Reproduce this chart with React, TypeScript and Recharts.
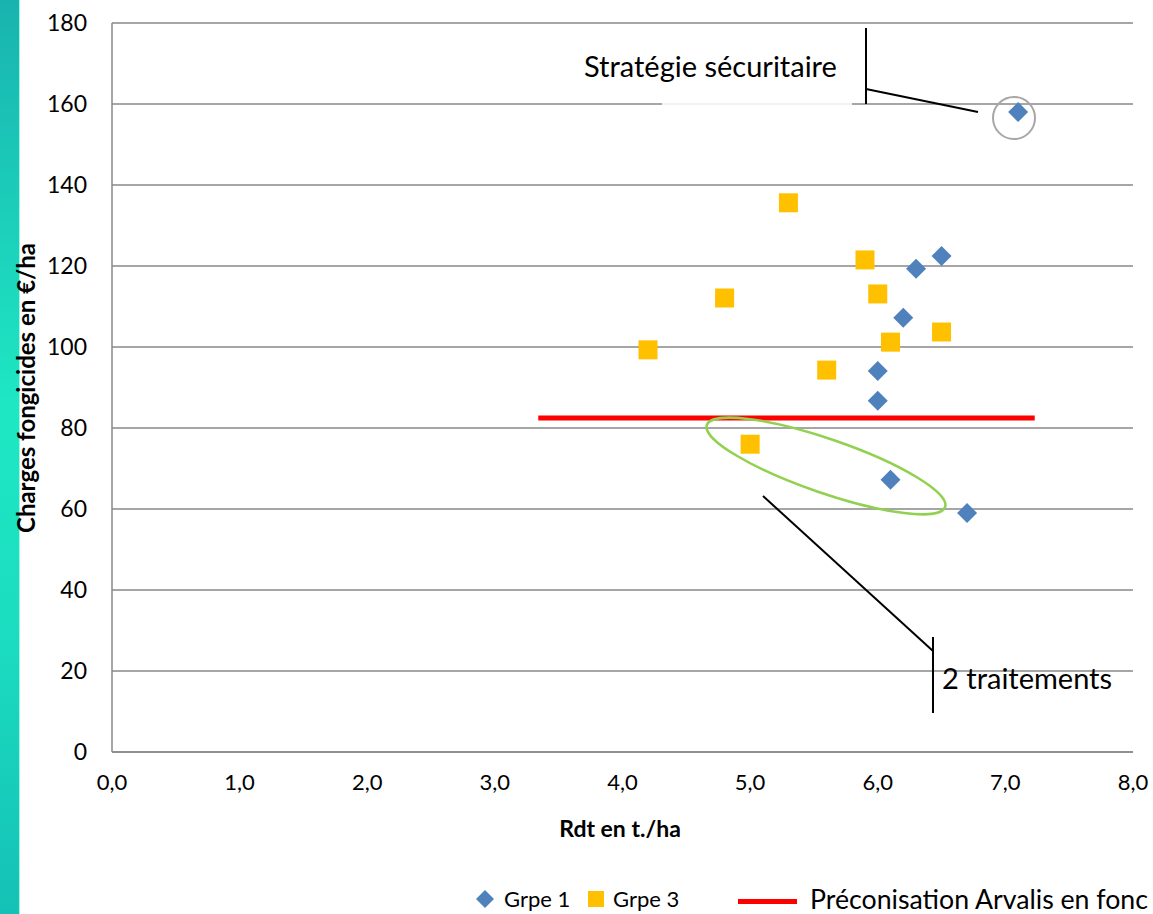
import React from "react";
import { ScatterChart, Scatter, XAxis, YAxis, CartesianGrid } from "recharts";

// Grpe 1 (diamonds)
const grpe1X = [7.1, 6.5, 6.3, 6.2, 6.0, 6.0, 6.1, 6.7];
const grpe1Y = [158, 122.5, 119.3, 107.2, 94.1, 86.7, 67.2, 59.0];

// Grpe 3 (squares)
const grpe3X = [5.3, 5.9, 4.8, 6.0, 6.5, 6.1, 4.2, 5.6, 5.0];
const grpe3Y = [135.6, 121.5, 112.1, 113.1, 103.7, 101.2, 99.3, 94.3, 76.0];

// Préconisation Arvalis (red line)
const precoX = [3.34, 7.23];
const precoY = [82.5, 82.5];

const xTicks = [0, 1, 2, 3, 4, 5, 6, 7, 8];
const yTicks = [0, 20, 40, 60, 80, 100, 120, 140, 160, 180];

const FONT = "Lato, 'Open Sans', sans-serif";
const W = 1153;
const H = 914;

const grpe1 = grpe1X.map((x, i) => ({ x, y: grpe1Y[i] }));
const grpe3 = grpe3X.map((x, i) => ({ x, y: grpe3Y[i] }));
const preco = precoX.map((x, i) => ({ x, y: precoY[i] }));

const Diamond = (props: any) => {
  const { cx, cy } = props;
  if (cx == null || cy == null) return null;
  const r = 10;
  return (
    <path
      d={`M${cx},${cy - r}L${cx + r},${cy}L${cx},${cy + r}L${cx - r},${cy}Z`}
      fill="#4F81BD"
    />
  );
};

const Square = (props: any) => {
  const { cx, cy } = props;
  if (cx == null || cy == null) return null;
  const s = 19;
  return <rect x={cx - s / 2} y={cy - s / 2} width={s} height={s} fill="#FFC000" />;
};

const NoShape = () => null;

const App = () => {
  return (
    <div
      style={{
        position: "absolute",
        left: 0,
        top: 0,
        width: W,
        height: H,
        overflow: "hidden",
        background: "#fff",
        fontFamily: FONT,
      }}
    >
      {/* teal stripe on the left */}
      <svg width={W} height={H} style={{ position: "absolute", left: 0, top: 0 }}>
        <defs>
          <linearGradient id="teal" x1="0" y1="0" x2="0" y2="1">
            <stop offset="0%" stopColor="#19b3af" />
            <stop offset="45%" stopColor="#1ee8c4" />
            <stop offset="70%" stopColor="#1bdcc0" />
            <stop offset="100%" stopColor="#14c1b6" />
          </linearGradient>
        </defs>
        <rect x={0} y={0} width={19} height={H} fill="url(#teal)" />
        <rect x={19} y={0} width={1} height={H} fill="#9ff5e4" />
      </svg>

      <div style={{ position: "absolute", left: 0, top: 0 }}>
        <ScatterChart
          width={W}
          height={H}
          margin={{ top: 23, right: 20, left: 0, bottom: 0 }}
        >
          <CartesianGrid vertical={false} stroke="#898989" strokeWidth={1.5} />
          <XAxis
            type="number"
            dataKey="x"
            domain={[0, 8]}
            ticks={xTicks}
            height={162}
            tickLine={false}
            tickSize={0}
            tickMargin={22}
            axisLine={{ stroke: "#898989", strokeWidth: 1.5 }}
            tick={{ fontSize: 22, fill: "#000", fontFamily: FONT }}
            tickFormatter={(v: number) => v.toFixed(1).replace(".", ",")}
            allowDataOverflow
          />
          <YAxis
            type="number"
            dataKey="y"
            domain={[0, 180]}
            ticks={yTicks}
            width={112}
            tickLine={false}
            tickSize={0}
            tickMargin={25}
            axisLine={{ stroke: "#898989", strokeWidth: 1.5 }}
            tick={{ fontSize: 23, fill: "#000", fontFamily: FONT }}
            allowDataOverflow
          />
          <Scatter
            name="Préconisation Arvalis en fonction"
            data={preco}
            line={{ stroke: "#FF0000", strokeWidth: 5 }}
            shape={NoShape}
            isAnimationActive={false}
          />
          <Scatter name="Grpe 3" data={grpe3} shape={Square} isAnimationActive={false} />
          <Scatter name="Grpe 1" data={grpe1} shape={Diamond} isAnimationActive={false} />
        </ScatterChart>
      </div>

      {/* annotations, axis titles and legend */}
      <svg
        width={W}
        height={H}
        style={{ position: "absolute", left: 0, top: 0, pointerEvents: "none" }}
        fontFamily={FONT}
      >
        {/* Stratégie sécuritaire callout */}
        <rect x={662} y={40} width={190} height={66} fill="#fff" fillOpacity={0.85} />
        <text x={584} y={77} fontSize={29} fill="#000">
          Stratégie sécuritaire
        </text>
        <line x1={866} y1={28} x2={866} y2={104} stroke="#000" strokeWidth={2} />
        <line x1={866} y1={89} x2={978} y2={112} stroke="#000" strokeWidth={2} />
        <circle cx={1014} cy={118} r={21} fill="none" stroke="#A6A6A6" strokeWidth={2} />

        {/* green ellipse */}
        <ellipse
          cx={826}
          cy={466}
          rx={126}
          ry={27}
          transform="rotate(19 826 466)"
          fill="none"
          stroke="#92D050"
          strokeWidth={2.5}
        />

        {/* 2 traitements callout */}
        <line x1={933} y1={637} x2={933} y2={713} stroke="#000" strokeWidth={2} />
        <line x1={933} y1={651} x2={763} y2={496} stroke="#000" strokeWidth={2} />
        <text x={942} y={689} fontSize={29} fill="#000">
          2 traitements
        </text>

        {/* axis titles */}
        <text
          x={35}
          y={388}
          fontSize={24}
          fontWeight="bold"
          textAnchor="middle"
          transform="rotate(-90 35 388)"
          fill="#000"
        >
          Charges fongicides en €/ha
        </text>
        <text x={620} y={837} fontSize={23} fontWeight="bold" textAnchor="middle" fill="#000">
          Rdt en t./ha
        </text>

        {/* legend */}
        <path d="M485,890L494,899L485,908L476,899Z" fill="#4F81BD" />
        <text x={504} y={907} fontSize={22} fill="#000">
          Grpe 1
        </text>
        <rect x={588} y={891} width={16} height={16} fill="#FFC000" />
        <text x={613} y={907} fontSize={22} fill="#000">
          Grpe 3
        </text>
        <rect x={738} y={899} width={59} height={5} fill="#FF0000" />
        <text
          x={810}
          y={909}
          fontSize={26}
          fill="#000"
          textLength={338}
          lengthAdjust="spacingAndGlyphs"
        >
          Préconisation Arvalis en fonc
        </text>
      </svg>
    </div>
  );
};

export default App;
